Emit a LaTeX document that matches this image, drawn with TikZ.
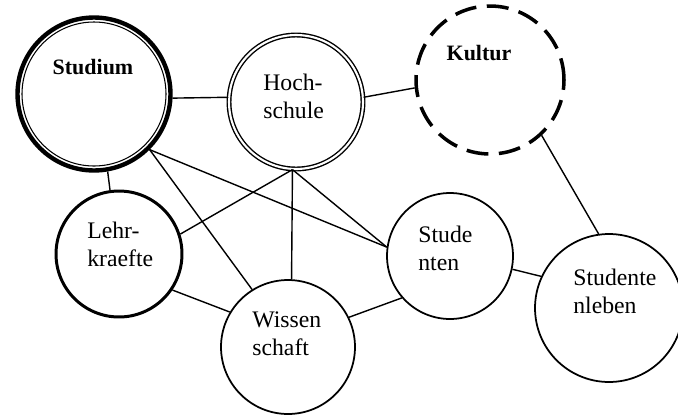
\documentclass[tikz,border=0pt]{standalone}
\usepackage{fontspec}
\setmainfont{Liberation Serif}

\begin{document}
\begin{tikzpicture}[
    x=0.02cm, y=-0.02cm,
    topic/.style={circle, draw, line width=1pt, minimum size=#1, inner sep=0pt},
    word/.style={align=left, anchor=west, inner sep=0pt, font=\fontsize{13.5}{16}\selectfont},
    keyword/.style={inner sep=0pt, font=\fontsize{12.5}{15}\selectfont\bfseries},
    link/.style={line width=0.8pt},
]
    \useasboundingbox (0,0) rectangle (678,416);
    % circles
    \node[topic=3.06cm, line width=2.5pt] (stm) at (94,94) {};
    \draw[line width=0.6pt] (stm) circle[radius=72];
    \node[topic=2.68cm, line width=0.8pt, double, double distance=1.2pt] (hoc) at (296,102) {};
    \node[topic=2.96cm, line width=2pt, dash pattern=on 12.5pt off 6pt] (kul) at (490,80) {};
    \node[topic=2.52cm, line width=1.7pt] (lhr) at (119,254) {};
    \node[topic=2.68cm] (wis) at (288,347) {};
    \node[topic=2.52cm] (stn) at (450,256) {};
    \node[topic=2.96cm] (stl) at (609,308) {};
    % texts
    \node[keyword] (stmtxt) at (93,67) {Studium};
    \node[keyword] (kultxt) at (479,53) {Kultur};
    \node[word] (hoctxt) at (263,96) {Hoch-\\schule};
    \node[word] (lhrtxt) at (87,244) {Lehr-\\kraefte};
    \node[word] (wistxt) at (252,334) {Wissen\\schaft};
    \node[word] (stntxt) at (418,248) {Stude\\nten};
    \node[word] (stltxt) at (573,291) {Studente\\nleben};
    % links
    \foreach \a/\b in {stm.-3/hoc.176, hoc.4/kul.186, stm.-80/lhr.98,
        stm.-45/wis.122, stm.-45/stn.172, hoc.-93/lhr.18, hoc.-93/wis.87,
        hoc.-93/stn.172, lhr.-34/wis.149, wis.26/stn.221, stn.-12/stl.155,
        kul.-47/stl.98}
        \draw[link] (\a) -- (\b);
\end{tikzpicture}
\end{document}
